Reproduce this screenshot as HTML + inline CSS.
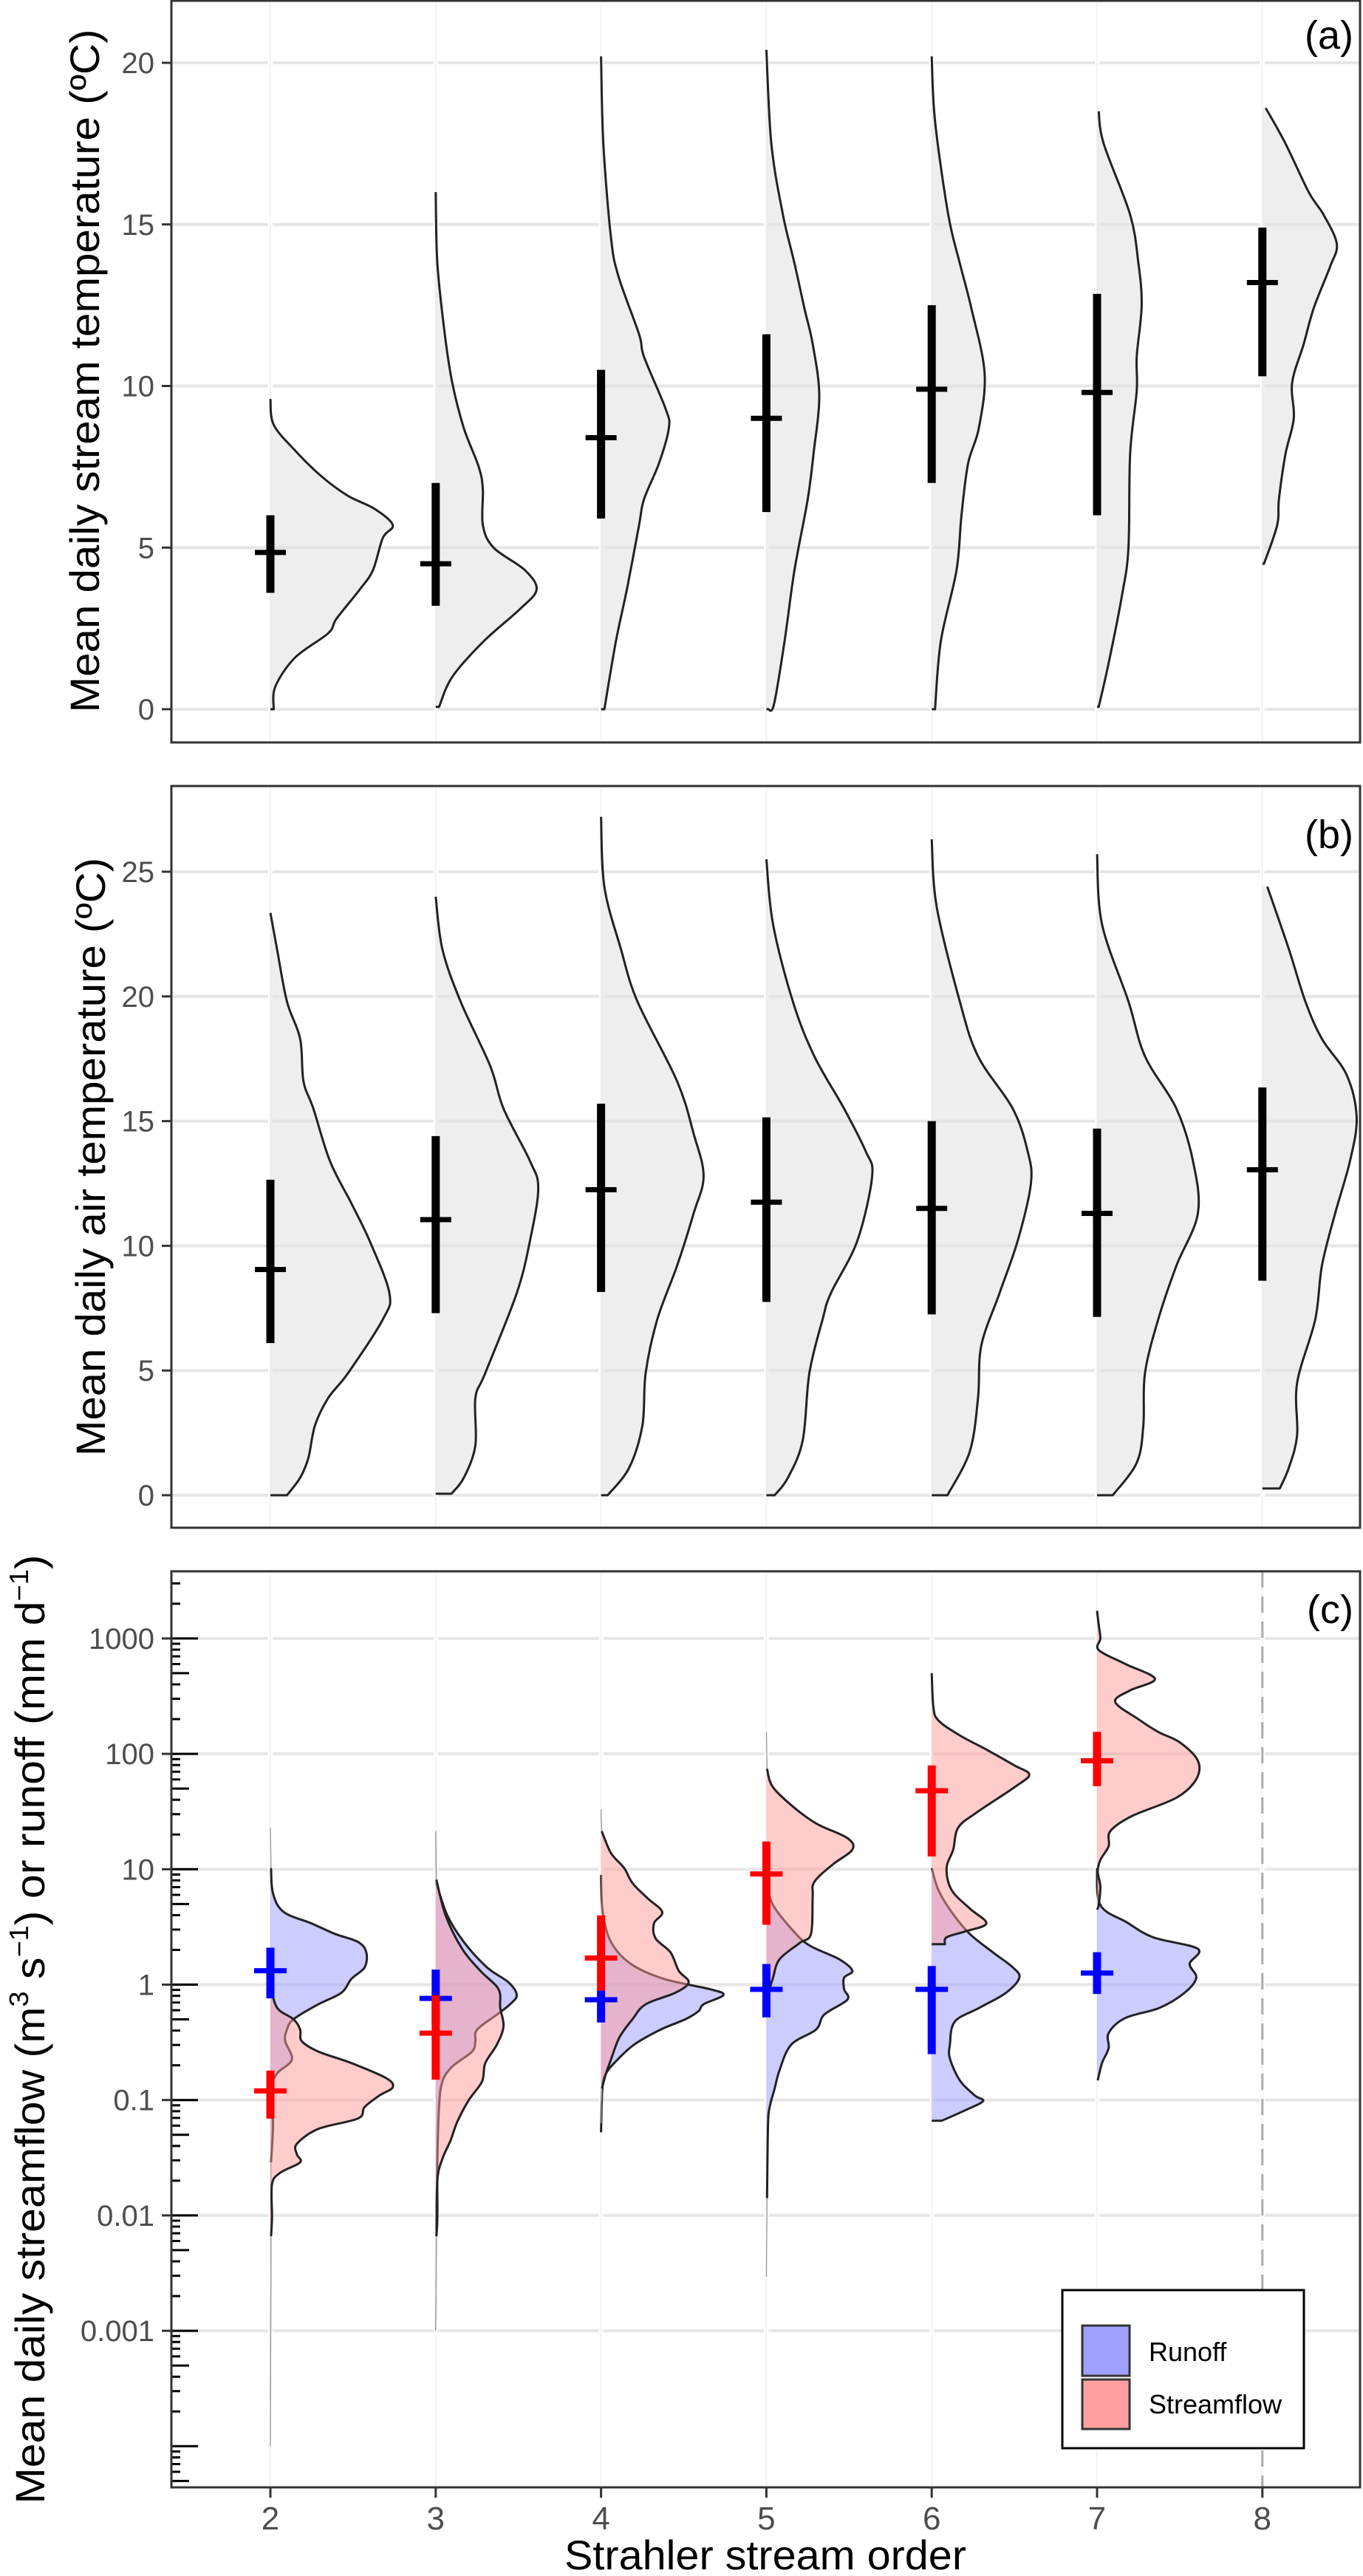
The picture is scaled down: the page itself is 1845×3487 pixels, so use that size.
<!DOCTYPE html>
<html><head><meta charset="utf-8"><style>
html,body{margin:0;padding:0;background:#fff;}
svg{display:block;font-family:"Liberation Sans",sans-serif;}
</style></head><body>
<svg id="fig" width="1845" height="3487" viewBox="0 0 1845 3487" xmlns="http://www.w3.org/2000/svg">
<rect x="0" y="0" width="1845" height="3487" fill="#fff"/>
<g id="gA"></g>
<g id="gB"></g>
<g id="gC"></g>
<text x="134" y="502" transform="rotate(-90 134 502)" text-anchor="middle" font-size="56" textLength="925" lengthAdjust="spacingAndGlyphs" fill="#000">Mean daily stream temperature (ºC)</text>
<text x="142" y="1566" transform="rotate(-90 142 1566)" text-anchor="middle" font-size="56" textLength="810" lengthAdjust="spacingAndGlyphs" fill="#000">Mean daily air temperature (ºC)</text>
<text x="60" y="2747" transform="rotate(-90 60 2747)" text-anchor="middle" font-size="56" textLength="1285" lengthAdjust="spacingAndGlyphs" fill="#000">Mean daily streamflow (m<tspan font-size="36" dy="-22">3</tspan><tspan dy="22"> s</tspan><tspan font-size="36" dy="-22">−1</tspan><tspan dy="22">)  or runoff (mm d</tspan><tspan font-size="36" dy="-22">−1</tspan><tspan dy="22">)</tspan></text>
<text x="1036" y="3478" text-anchor="middle" font-size="56" textLength="544" lengthAdjust="spacingAndGlyphs" fill="#000">Strahler stream order</text>
</svg>
<script>
// ---------- data: panel a (stream temperature) ----------
const orders = [2,3,4,5,6,7,8];
const aMean = [4.85,4.5,8.4,9.0,9.9,9.8,13.2];
const aLo = [3.6,3.2,5.9,6.1,7.0,6.0,10.3];
const aHi = [6.0,7.0,10.5,11.6,12.5,12.85,14.9];
const aY2=[9.6,8.8,8.0,7.2,6.6,6.2,5.7,5.3,4.3,3.7,2.8,2.35,1.6,0.7,0];
const aW2=[0,0.02,0.15,0.31,0.47,0.63,0.74,0.68,0.62,0.54,0.40,0.35,0.15,0.03,0.02];
const aY3=[16.0,13.8,11.6,10.1,8.7,7.5,6.8,5.7,5.0,4.3,3.7,3.1,2.1,1.0,0.07];
const aW3=[0,0.01,0.055,0.10,0.17,0.26,0.285,0.285,0.35,0.54,0.61,0.51,0.29,0.10,0.02];
const aY4=[20.2,17.5,14.6,13.4,11.6,10.9,9.3,8.7,7.6,6.5,5.7,3.8,2.1,0];
const aW4=[0,0.014,0.06,0.105,0.23,0.26,0.39,0.41,0.35,0.26,0.23,0.16,0.09,0.02];
const aY5=[20.4,17.5,15.3,13.8,12.4,11.3,9.7,7.9,6.5,4.3,2.1,0.15,0];
const aW5=[0,0.03,0.10,0.17,0.23,0.28,0.32,0.285,0.25,0.17,0.11,0.046,0.01];
const aY6=[20.2,18.2,15.3,13.8,12.4,10.4,8.7,7.6,6.0,4.3,2.1,0];
const aW6=[0,0.02,0.10,0.17,0.24,0.32,0.285,0.22,0.18,0.15,0.055,0.02];
const aY7=[18.5,17.5,15.3,13.8,12.5,10.9,9.85,7.9,5.0,3.5,1.3,0.07];
const aW7=[0.01,0.04,0.20,0.25,0.27,0.24,0.24,0.20,0.19,0.15,0.065,0.01];
const aY8=[18.6,17.5,16.0,15.3,14.4,13.7,12.4,11.3,10.1,9.0,7.9,6.5,5.7,4.5];
const aW8=[0.02,0.14,0.28,0.37,0.45,0.41,0.31,0.25,0.18,0.19,0.14,0.10,0.09,0.01];
const aTicks=[0,5,10,15,20];
// ---------- data: panel b (air temperature) ----------
const bMean=[9.05,11.05,12.25,11.75,11.5,11.3,13.05];
const bLo=[6.1,7.3,8.15,7.75,7.25,7.15,8.6];
const bHi=[12.65,14.4,15.7,15.15,15.0,14.7,16.35];
const bY2=[23.35,21.9,19.8,18.3,16.6,15.5,13.4,11.7,10.2,8.1,7.05,4.9,3.9,2.8,1.5,0.7,0];
const bW2=[0,0.04,0.10,0.18,0.2,0.26,0.36,0.49,0.6,0.72,0.68,0.47,0.35,0.27,0.23,0.18,0.10];
const bY3=[24.0,21.9,19.8,17.2,15.5,13.4,12.3,10.2,8.1,4.9,3.9,2.0,0.7,0.06];
const bW3=[0,0.04,0.15,0.33,0.41,0.57,0.62,0.57,0.49,0.30,0.24,0.24,0.17,0.095];
const bY4=[27.2,24.4,21.9,19.8,16.6,14.5,12.8,11.3,9.2,7.05,4.9,2.8,1.1,0];
const bW4=[0,0.02,0.12,0.22,0.46,0.56,0.62,0.56,0.46,0.34,0.27,0.25,0.17,0.04];
const bY5=[25.5,22.9,19.8,17.6,15.5,13.8,12.8,10.2,8.1,7.05,4.9,2.2,0.7,0];
const bW5=[0,0.04,0.16,0.29,0.47,0.60,0.64,0.55,0.39,0.34,0.26,0.22,0.13,0.05];
const bY6=[26.3,23.6,19.8,17.6,15.5,13.8,12.5,10.2,8.1,6.0,3.9,1.75,0];
const bW6=[0,0.03,0.17,0.28,0.49,0.58,0.60,0.52,0.41,0.30,0.28,0.23,0.095];
const bY7=[25.7,22.9,19.8,17.6,15.5,13.4,11.3,9.2,7.05,4.9,2.8,1.3,0];
const bW7=[0,0.03,0.19,0.29,0.48,0.58,0.61,0.48,0.37,0.29,0.28,0.24,0.095];
const bY8=[24.4,21.9,19.8,18.3,16.85,15.15,13.4,11.3,9.2,7.05,4.5,2.4,1.1,0.27];
const bW8=[0.03,0.16,0.26,0.36,0.51,0.57,0.53,0.44,0.36,0.32,0.21,0.21,0.16,0.105];
const bTicks=[0,5,10,15,20,25];
// ---------- data: panel c (streamflow / runoff, log10 grid) ----------
const cOrders=[2,3,4,5,6,7];
const runMean=[1.32,0.76,0.74,0.91,0.91,1.26];
const runLo=[0.76,0.45,0.47,0.52,0.25,0.83];
const runHi=[2.09,1.35,0.89,1.51,1.45,1.91];
const sfMean=[0.12,0.38,1.70,9.1,47.9,87.1];
const sfLo=[0.069,0.15,0.89,3.3,12.9,52.5];
const sfHi=[0.18,0.81,3.98,17.4,79.4,155];
const rY2=[1.36,1.01,0.79,0.63,0.53,0.44,0.37,0.28,0.15,0.05,-0.07,-0.17,-0.30,-0.39,-0.49,-0.65,-0.77,-0.90,-1.22,-1.54,-2.5,-4.0];
const rW2=[0,0.004,0.016,0.08,0.25,0.39,0.53,0.58,0.57,0.49,0.43,0.29,0.14,0.10,0.09,0.13,0.04,0.01,0.016,0.004,0.003,0];
const rY3=[1.33,0.88,0.60,0.37,0.15,0.02,-0.09,-0.17,-0.26,-0.39,-0.49,-0.58,-0.71,-0.84,-1.06,-1.54,-2.02,-2.18,-3.0];
const rW3=[0,0.004,0.07,0.17,0.31,0.44,0.49,0.45,0.37,0.25,0.24,0.22,0.10,0.04,0.02,0.01,0.01,0.004,0];
const rY4=[0.95,0.63,0.37,0.18,0.05,-0.04,-0.09,-0.17,-0.23,-0.30,-0.39,-0.52,-0.65,-0.77,-0.90,-1.28];
const rW4=[0,0.01,0.06,0.18,0.38,0.66,0.74,0.62,0.59,0.51,0.36,0.20,0.10,0.03,0.008,0];
const rY5=[0.89,0.69,0.47,0.34,0.22,0.12,0.06,-0.04,-0.13,-0.26,-0.39,-0.52,-0.74,-0.90,-1.06,-1.22,-1.85,-2.53];
const rW5=[0,0.04,0.16,0.26,0.44,0.52,0.47,0.47,0.49,0.35,0.30,0.15,0.08,0.05,0.02,0.01,0.004,0];
const rY6=[1.01,0.82,0.63,0.44,0.28,0.15,0.06,-0.07,-0.20,-0.32,-0.52,-0.64,-0.83,-0.96,-1.01,-1.09,-1.18];
const rW6=[0,0.04,0.12,0.23,0.37,0.49,0.53,0.45,0.29,0.14,0.11,0.11,0.17,0.26,0.31,0.20,0.06];
const rY7=[1.01,0.69,0.54,0.41,0.31,0.18,0.06,-0.07,-0.20,-0.29,-0.42,-0.55,-0.68,-0.83];
const rW7=[0,0.02,0.18,0.34,0.61,0.56,0.60,0.53,0.38,0.17,0.07,0.07,0.03,0.004];
const sY2=[0.0,-0.20,-0.30,-0.39,-0.49,-0.58,-0.68,-0.81,-0.89,-0.96,-1.06,-1.16,-1.25,-1.38,-1.47,-1.54,-1.63,-1.73,-2.02,-2.18,-3.0,-3.6];
const sW2=[0,0.04,0.14,0.18,0.19,0.29,0.49,0.70,0.74,0.66,0.57,0.53,0.29,0.16,0.16,0.18,0.06,0.01,0.01,0.004,0.002,0];
const sY3=[1.33,0.91,0.60,0.31,0.12,-0.04,-0.20,-0.36,-0.52,-0.68,-0.84,-1.00,-1.19,-1.35,-1.51,-1.70,-2.18,-3.0];
const sW3=[0,0.004,0.06,0.16,0.27,0.38,0.39,0.41,0.37,0.30,0.28,0.20,0.13,0.09,0.04,0.01,0.005,0];
const sY4=[1.52,1.33,1.14,1.01,0.88,0.75,0.63,0.53,0.40,0.28,0.12,0.02,-0.07,-0.17,-0.30,-0.46,-0.65,-0.77,-0.90,-1.2];
const sW4=[0,0.004,0.06,0.14,0.19,0.28,0.37,0.32,0.33,0.42,0.47,0.53,0.45,0.27,0.19,0.11,0.06,0.03,0.005,0];
const sY5=[2.19,1.87,1.71,1.52,1.39,1.27,1.17,1.04,0.89,0.76,0.44,0.36,0.22,0.06,-0.10,-0.26];
const sW5=[0,0.004,0.04,0.18,0.31,0.49,0.52,0.40,0.29,0.28,0.27,0.20,0.08,0.04,0.01,0.004];
const sY6=[2.70,2.41,2.29,2.16,2.03,1.90,1.82,1.71,1.49,1.36,1.17,1.01,0.82,0.66,0.53,0.46,0.41,0.35];
const sW6=[0,0.01,0.04,0.17,0.34,0.50,0.59,0.50,0.27,0.16,0.13,0.09,0.12,0.23,0.33,0.20,0.09,0.08];
const sY7=[3.24,3.12,3.0,2.9,2.78,2.65,2.55,2.45,2.30,2.19,2.10,1.94,1.78,1.62,1.46,1.33,1.20,1.08,0.98,0.85,0.69,0.65];
const sW7=[0,0.01,0.02,0.01,0.17,0.35,0.20,0.11,0.25,0.37,0.50,0.61,0.60,0.48,0.21,0.08,0.07,0.02,0.004,0.02,0.01,0];
const cTickLabels=["1000","100","10","1","0.1","0.01","0.001"];
const cTickVals=[1000,100,10,1,0.1,0.01,0.001];

// ---------- scales ----------
const NS="http://www.w3.org/2000/svg";
const PX0=232, PX1=1841, ORD=223.8;
const xO = o => 366 + (o-2)*ORD;
const yA = v => 960 - v*43.75;
const yB = v => 2024 - v*33.76;
const yC = v => 2686.5 - Math.log10(v)*156.2;
const yCl = l => 2686.5 - l*156.2;
const TAIL = 0.008;

function mk(parent, tag, attrs){
  const e=document.createElementNS(NS,tag);
  for(const k in attrs) e.setAttribute(k,attrs[k]);
  parent.appendChild(e); return e;
}
function smoothPath(pts){
  let d="M"+pts[0][0].toFixed(1)+","+pts[0][1].toFixed(1);
  for(let i=0;i<pts.length-1;i++){
    const p0=pts[i-1]||pts[i], p1=pts[i], p2=pts[i+1], p3=pts[i+2]||p2;
    const c1=[p1[0]+(p2[0]-p0[0])/6, p1[1]+(p2[1]-p0[1])/6];
    const c2=[p2[0]-(p3[0]-p1[0])/6, p2[1]-(p3[1]-p1[1])/6];
    d+=" C"+c1[0].toFixed(1)+","+c1[1].toFixed(1)+" "+c2[0].toFixed(1)+","+c2[1].toFixed(1)+" "+p2[0].toFixed(1)+","+p2[1].toFixed(1);
  }
  return d;
}
function violin(g, o, ys, ws, ys2px, fill, op, name, strokeW){
  const x0=xO(o);
  const pts=ys.map((v,i)=>[x0+ws[i]*ORD, ys2px(v)]);
  const top=ys2px(ys[0]), bot=ys2px(ys[ys.length-1]);
  const curve=smoothPath(pts);
  const area=mk(g,"path",{d:curve+" L"+x0+","+bot.toFixed(1)+" L"+x0+","+top.toFixed(1)+" Z",fill:fill,"fill-opacity":op,stroke:"none"});
  
  
  let i0=0; while(i0<ws.length-1 && ws[i0]<TAIL) i0++;
  let i1=ws.length-1; while(i1>0 && ws[i1]<TAIL) i1--;
  i0=Math.max(0,i0-1); i1=Math.min(ws.length-1,i1+1);
  if(i0>0){
    const t=mk(g,"polyline",{points:pts.slice(0,i0+1).map(p=>p[0].toFixed(1)+","+p[1].toFixed(1)).join(" "),fill:"none",stroke:"#999","stroke-width":1.3});
    
    
  }
  if(i1<ws.length-1){
    const t=mk(g,"polyline",{points:pts.slice(i1).map(p=>p[0].toFixed(1)+","+p[1].toFixed(1)).join(" "),fill:"none",stroke:"#999","stroke-width":1.3});
    
    
  }
  const main=pts.slice(i0,i1+1);
  let d=smoothPath(main);
  if(i1===ws.length-1 && ws[i1]>=TAIL) d+=" L"+x0+","+bot.toFixed(1);
  const line=mk(g,"path",{d:d,fill:"none",stroke:"#222","stroke-width":strokeW,"stroke-linejoin":"round"});
  
  
}
function crossbar(g,o,m,lo,hi,ypx,color,vw,hw,ht,name){
  const x=xO(o);
  const v=mk(g,"rect",{x:x-vw/2,y:ypx(hi),width:vw,height:ypx(lo)-ypx(hi),fill:color});
  
  
  const h=mk(g,"rect",{x:x-hw/2,y:ypx(m)-ht/2,width:hw,height:ht,fill:color});
  
  
}
function frame(g, top, bot, ticks, ypx, labels, label, labY, name){
  mk(g,"rect",{x:PX0,y:top,width:PX1-PX0,height:bot-top,fill:"#fff"});
  ticks.forEach((t,i)=>{
    const y=ypx(t);
    const gl=mk(g,"line",{x1:PX0,x2:PX1,y1:y,y2:y,stroke:"#e6e6e6","stroke-width":4});
    
    
    mk(g,"line",{x1:219,x2:PX0,y1:y,y2:y,stroke:"#333","stroke-width":3});
    const tx=mk(g,"text",{x:209,y:y+14,"text-anchor":"end","font-size":40,fill:"#4d4d4d"});
    tx.textContent=labels[i];
    
    
  });
  orders.forEach(o=>{
    mk(g,"line",{x1:xO(o),x2:xO(o),y1:top,y2:bot,stroke:"#fff","stroke-width":6});
    mk(g,"line",{x1:xO(o),x2:xO(o),y1:top,y2:bot,stroke:"#f3f3f3","stroke-width":2});
  });
  const pl=mk(g,"text",{x:1832,y:labY,"text-anchor":"end","font-size":54,fill:"#000"});
  pl.textContent=label;
  
  
}
function border(g,top,bot,name){
  const b=mk(g,"rect",{x:PX0,y:top,width:PX1-PX0,height:bot-top,fill:"none",stroke:"#333","stroke-width":3});
  
  
}

// ---------- panel a ----------
const gA=document.getElementById("gA");
frame(gA,1,1005,aTicks,yA,aTicks.map(String),"(a)",66,"panel-a");
const aYs=[aY2,aY3,aY4,aY5,aY6,aY7,aY8], aWs=[aW2,aW3,aW4,aW5,aW6,aW7,aW8];
orders.forEach((o,i)=>violin(gA,o,aYs[i],aWs[i],yA,"#e0e0e0",0.55,"violin-a-order"+o,3));
orders.forEach((o,i)=>crossbar(gA,o,aMean[i],aLo[i],aHi[i],yA,"#000",11,42,7,"bar-a-order"+o));
border(gA,1,1005,"panel-a");

// ---------- panel b ----------
const gB=document.getElementById("gB");
frame(gB,1064,2068,bTicks,yB,bTicks.map(String),"(b)",1148,"panel-b");
const bYs=[bY2,bY3,bY4,bY5,bY6,bY7,bY8], bWs=[bW2,bW3,bW4,bW5,bW6,bW7,bW8];
orders.forEach((o,i)=>violin(gB,o,bYs[i],bWs[i],yB,"#e0e0e0",0.55,"violin-b-order"+o,3));
orders.forEach((o,i)=>crossbar(gB,o,bMean[i],bLo[i],bHi[i],yB,"#000",11,42,7,"bar-b-order"+o));
border(gB,1064,2068,"panel-b");

// ---------- panel c ----------
const gC=document.getElementById("gC");
frame(gC,2127,3367,cTickVals,yC,cTickLabels,"(c)",2197,"panel-c");
const dash=mk(gC,"line",{x1:xO(8),x2:xO(8),y1:2127,y2:3367,stroke:"#aaa","stroke-width":3,"stroke-dasharray":"22,12"});


const rYs=[rY2,rY3,rY4,rY5,rY6,rY7], rWs=[rW2,rW3,rW4,rW5,rW6,rW7];
const sYs=[sY2,sY3,sY4,sY5,sY6,sY7], sWs=[sW2,sW3,sW4,sW5,sW6,sW7];
cOrders.forEach((o,i)=>violin(gC,o,rYs[i],rWs[i],yCl,"#9999ff",0.5,"violin-runoff-order"+o,3));
cOrders.forEach((o,i)=>violin(gC,o,sYs[i],sWs[i],yCl,"#ff9999",0.5,"violin-streamflow-order"+o,3));
cOrders.forEach((o,i)=>crossbar(gC,o,runMean[i],runLo[i],runHi[i],yC,"#0000ff",11,44,7,"bar-runoff-order"+o));
cOrders.forEach((o,i)=>crossbar(gC,o,sfMean[i],sfLo[i],sfHi[i],yC,"#ff0000",11,44,7,"bar-streamflow-order"+o));
for(let dec=-5;dec<=3;dec++){
  for(let m=1;m<=9;m++){
    const l=dec+Math.log10(m);
    if(l>3.58||l<-4.36) continue;
    const y=yCl(l);
    const len = m===1?36:(m===5?24:12);
    mk(gC,"line",{x1:PX0,x2:PX0+len,y1:y,y2:y,stroke:"#000","stroke-width":3});
  }
}
orders.forEach(o=>{
  mk(gC,"line",{x1:xO(o),x2:xO(o),y1:3367,y2:3381,stroke:"#333","stroke-width":3});
  const t=mk(gC,"text",{x:xO(o),y:3424,"text-anchor":"middle","font-size":44,fill:"#4d4d4d"});
  t.textContent=String(o);
  
  
});
border(gC,2127,3367,"panel-c");
const lg=mk(gC,"g",{});


mk(lg,"rect",{x:1438,y:3100,width:327,height:214,fill:"#fff",stroke:"#000","stroke-width":3});
const k1=mk(lg,"rect",{x:1465,y:3148,width:64,height:68,fill:"#a0a0ff",stroke:"#333","stroke-width":3});


const k2=mk(lg,"rect",{x:1465,y:3221,width:64,height:67,fill:"#ffa0a0",stroke:"#333","stroke-width":3});


const t1=mk(lg,"text",{x:1555,y:3196,"font-size":36,fill:"#000"}); t1.textContent="Runoff";


const t2=mk(lg,"text",{x:1555,y:3267,"font-size":36,fill:"#000"}); t2.textContent="Streamflow";


</script>
</body></html>
